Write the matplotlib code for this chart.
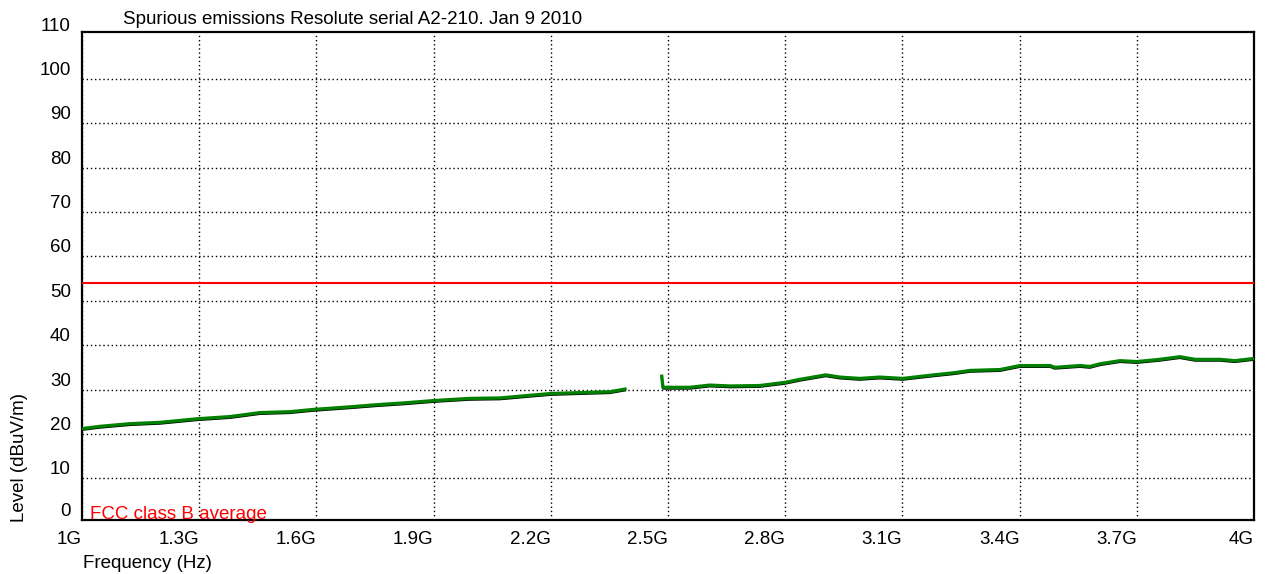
import matplotlib
matplotlib.use("Agg")
import matplotlib.pyplot as plt
import matplotlib.transforms as mtransforms

plt.rcParams['font.family'] = ['Liberation Sans', 'DejaVu Sans']

# ---- data (GHz, dBuV/m) ----
freq_low = [1.000, 1.046, 1.123, 1.200, 1.294, 1.379, 1.456, 1.532, 1.591, 1.686,
            1.758, 1.827, 1.898, 1.993, 2.070, 2.147, 2.200, 2.275, 2.351, 2.390]
level_low = [21.2, 21.7, 22.3, 22.6, 23.4, 23.9, 24.8, 25.0, 25.5, 26.1,
             26.6, 27.0, 27.5, 28.0, 28.1, 28.7, 29.1, 29.3, 29.5, 30.1]

freq_high = [2.484, 2.487, 2.556, 2.607, 2.659, 2.735, 2.799, 2.838, 2.904, 2.940,
             2.991, 3.042, 3.101, 3.170, 3.234, 3.273, 3.350, 3.401, 3.478, 3.490,
             3.554, 3.580, 3.606, 3.657, 3.700, 3.759, 3.810, 3.849, 3.913, 3.951, 4.000]
level_high = [33.0, 30.5, 30.5, 31.0, 30.8, 30.9, 31.6, 32.3, 33.3, 32.8,
              32.5, 32.8, 32.5, 33.2, 33.8, 34.3, 34.5, 35.4, 35.4, 35.0,
              35.4, 35.2, 35.8, 36.5, 36.3, 36.8, 37.4, 36.8, 36.8, 36.5, 37.0]

fcc_limit = 54
xticks = [1.0, 1.3, 1.6, 1.9, 2.2, 2.5, 2.8, 3.1, 3.4, 3.7, 4.0]
xtick_labels = ['1G', '1.3G', '1.6G', '1.9G', '2.2G', '2.5G', '2.8G', '3.1G', '3.4G', '3.7G', '4G']
yticks = [0, 10, 20, 30, 40, 50, 60, 70, 80, 90, 100, 110]

# the original plot's scale sits a little above the bottom frame
y_lo, y_hi = 0.6, 110.6
FS = 13.5
GRID = dict(color='black', linestyle=(0, (1, 2)), lw=1.0, zorder=1)

W, H = 1273, 574
fig = plt.figure(figsize=(W / 100, H / 100), dpi=100)
ax = fig.add_axes([82 / W, 1 - 520 / H, (1254 - 82) / W, (520 - 32) / H])

# black shadow trace slightly below the green one
shadow = ax.transData + mtransforms.ScaledTranslation(0, -1.5 / 100, fig.dpi_scale_trans)
for f, l in [(freq_low, level_low), (freq_high, level_high)]:
    ax.plot(f, l, color='black', lw=1.2, transform=shadow, zorder=3)
    ax.plot(f, l, color='#008000', lw=2.4, zorder=4)

ax.axhline(fcc_limit, color='#ff0000', lw=1.5, zorder=5)
ax.text(1.02, y_lo + 0.2, 'FCC class B average', color='#ff0000', fontsize=FS,
        va='baseline', ha='left', zorder=6)

ax.set_xlim(1.0, 4.0)
ax.set_ylim(y_lo, y_hi)
ax.set_xticks(xticks)
ax.set_xticklabels(xtick_labels, ha='right')
ax.set_yticks([max(v, y_lo) for v in yticks])
ax.set_yticklabels([str(v) for v in yticks], va='bottom')
ax.tick_params(length=0, labelsize=FS, colors='black')
ax.tick_params(axis='x', pad=8)
ax.tick_params(axis='y', pad=8)
ax.xaxis.grid(True, **GRID)
# horizontal grid only between the frame edges (110 sits on the frame)
for v in yticks[1:-1]:
    ax.axhline(v, **GRID)
for s in ax.spines.values():
    s.set_linewidth(1.6)
    s.set_color('black')

fig.text(123 / W, 1 - 20 / H, 'Spurious emissions Resolute serial A2-210. Jan 9 2010',
         fontsize=FS, va='center', ha='left')
fig.text(83 / W, 1 - 563 / H, 'Frequency (Hz)', fontsize=FS, va='center', ha='left')
fig.text(20 / W, 1 - 522 / H, 'Level (dBuV/m)', fontsize=FS, rotation=90,
         va='bottom', ha='center')

fig.savefig('out.png', dpi=100)
